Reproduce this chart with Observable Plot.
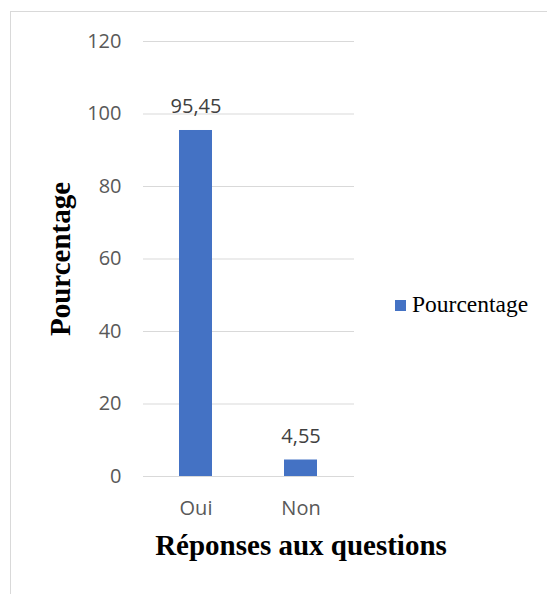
<!DOCTYPE html>
<html>
<head>
<meta charset="utf-8">
<script src="https://cdn.jsdelivr.net/npm/d3@7"></script>
<script src="https://cdn.jsdelivr.net/npm/@observablehq/plot@0.6"></script>
<style>
  html, body { margin: 0; padding: 0; background: #fff; }
  #wrap { position: relative; width: 547px; height: 594px; overflow: hidden; background: #fff; }
  #frame { position: absolute; left: 10px; top: 11px; width: 700px; height: 800px; border: 1px solid #d9d9d9; box-sizing: border-box; }
  #chart { position: absolute; left: 0; top: 0; }
  #legend { position: absolute; left: 395px; top: 291px; display: flex; align-items: center; font-family: "Liberation Serif", "Times New Roman", serif; font-size: 23.5px; color: #000; white-space: nowrap; }
  #legend .sw { width: 11px; height: 11px; background: #4472C4; margin-right: 6px; margin-top: 2px; }
</style>
</head>
<body>
<div id="wrap">
  <div id="frame"></div>
  <div id="chart"></div>
  <div id="legend"><span class="sw"></span><span>Pourcentage</span></div>
</div>
<script>
const categories = ["Oui", "Non"];
const values = [95.45, 4.55];
const valueLabels = ["95,45", "4,55"];
const yTicks = [0, 20, 40, 60, 80, 100, 120];
const seriesName = "Pourcentage";
const xTitle = "Réponses aux questions";
const yTitle = "Pourcentage";

const data = categories.map((c, i) => ({cat: c, value: values[i], label: valueLabels[i]}));

const plot = Plot.plot({
  width: 547,
  height: 594,
  marginLeft: 143,
  marginRight: 193,
  marginTop: 41,
  marginBottom: 118,
  style: {fontFamily: "'Open Sans', sans-serif", fontSize: "20px", color: "#595959", background: "transparent", overflow: "visible"},
  x: {domain: categories, paddingInner: 0.683, paddingOuter: 0.3415, label: null},
  y: {domain: [0, 120], label: null},
  marks: [
    Plot.gridY(yTicks, {stroke: "#d9d9d9", strokeOpacity: 1, strokeWidth: 1.2}),
    Plot.barY(data, {x: "cat", y: "value", fill: "#4472C4"}),
    Plot.text(data, {x: "cat", y: "value", text: "label", lineAnchor: "bottom", dy: -17, fill: "#404040", fontSize: 20}),
    Plot.axisY(yTicks, {tickSize: 0, tickPadding: 22, label: null, fill: "#595959", tickFormat: d => String(d)}),
    Plot.axisX({tickSize: 0, tickPadding: 24, label: null, fill: "#595959"})
  ]
});

document.getElementById("chart").appendChild(plot);

// Axis titles
const svg = d3.select(plot);
svg.append("text")
  .attr("transform", "translate(70,259) rotate(-90)")
  .attr("text-anchor", "middle")
  .attr("font-family", "'Liberation Serif', 'Times New Roman', serif")
  .attr("font-weight", "bold")
  .attr("font-size", 29)
  .attr("fill", "#000")
  .text(yTitle);
svg.append("text")
  .attr("x", 301)
  .attr("y", 555)
  .attr("text-anchor", "middle")
  .attr("font-family", "'Liberation Serif', 'Times New Roman', serif")
  .attr("font-weight", "bold")
  .attr("font-size", 29)
  .attr("fill", "#000")
  .text(xTitle);
</script>
</body>
</html>
